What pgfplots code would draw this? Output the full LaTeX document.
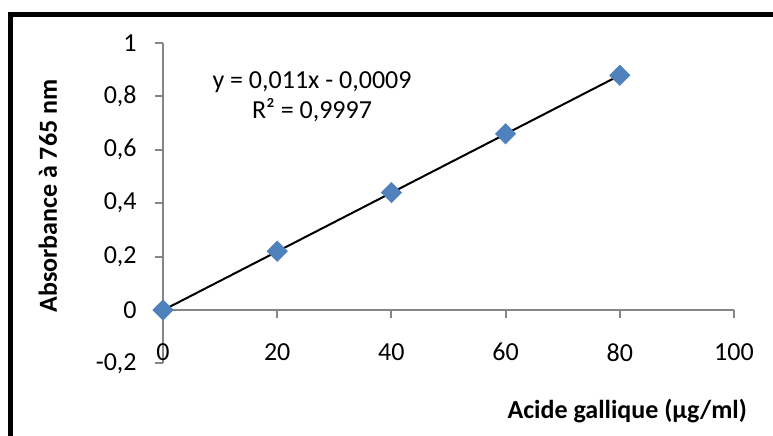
\documentclass[border=0pt]{standalone}
\usepackage{pgfplots}
\pgfplotsset{compat=1.18}
\usepackage{fontspec}
\setmainfont{Carlito}
\definecolor{axisgray}{HTML}{868686}
\definecolor{markblue}{HTML}{4F81BD}
\begin{document}
\fontsize{13}{15.5}\selectfont
\begin{tikzpicture}
% picture is 773 x 435 px, 1 px = 0.5 pt
\path[use as bounding box] (0,0) rectangle (386.5pt,217.5pt);
\draw[line width=2.5pt] (5.25pt,-3pt) -- (5.25pt,210.25pt) -- (390pt,210.25pt);
\begin{axis}[
    at={(81.5pt,35.8pt)}, anchor=south west,
    scale only axis,
    width=285.5pt, height=160.2pt,
    xmin=0, xmax=100, ymin=-0.2, ymax=1,
    axis x line=middle, axis y line=left,
    axis line style={-, draw=axisgray, line width=1pt},
    hide obscured x ticks=false, hide obscured y ticks=false,
    xtick={0,20,40,60,80,100},
    ytick={-0.2,0,0.2,0.4,0.6,0.8,1},
    tick align=outside,
    major tick length=4pt,
    tick style={draw=axisgray, line width=1pt},
    minor tick num=0,
    /pgf/number format/.cd, use comma, assume math mode=true,
    /pgfplots/.cd,
    tick label style={font=\fontsize{13}{15.5}\selectfont},
    yticklabel style={anchor=east, inner sep=0pt, xshift=-9pt},
    xticklabel style={anchor=north, inner sep=0pt, yshift=-12.5pt},
    clip=false,
]
\addplot[only marks, mark=square*, mark size=3.54pt,
    mark options={rotate=45, fill=markblue, draw=markblue}]
    coordinates {(0,0.000) (20,0.220) (40,0.440) (60,0.660) (80,0.879)};
\addplot[black, line width=1pt] coordinates {(0,-0.0009) (80,0.8791)};
\node[anchor=base] at (axis cs:26.1,0.831) {y = 0,011x - 0,0009};
\node[anchor=base] at (axis cs:26.1,0.719) {R² = 0,9997};
\end{axis}
\node[anchor=base east, font=\bfseries] at (378pt,8.5pt) {Acide gallique (µg/ml)};
\node[anchor=base, rotate=90, font=\bfseries] at (28.5pt,119.5pt) {Absorbance à 765 nm};
\end{tikzpicture}
\end{document}
